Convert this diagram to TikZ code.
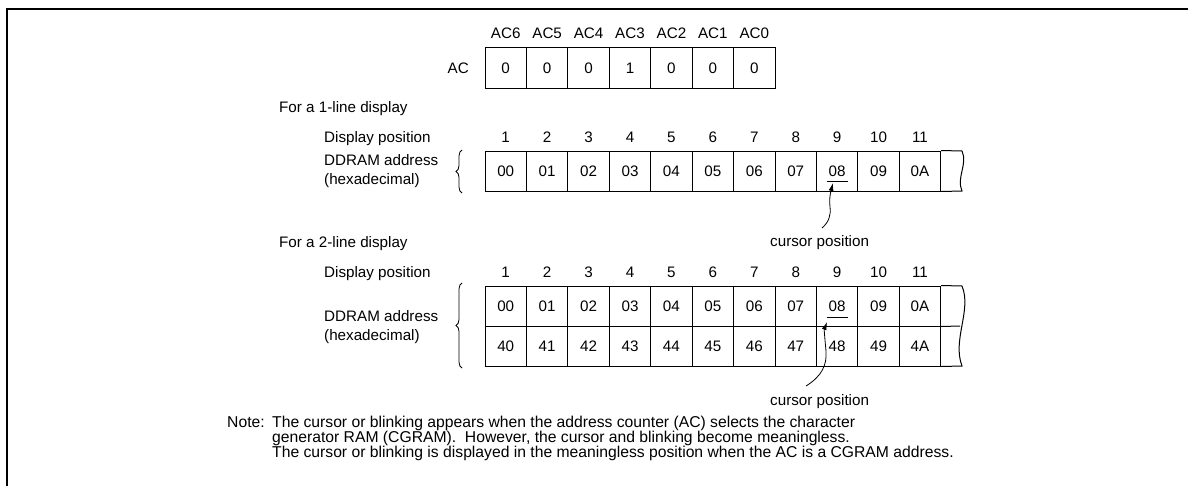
\documentclass[tikz,border=0pt]{standalone}
\usepackage{fontspec}
\setmainfont{Liberation Sans}
\usetikzlibrary{decorations.pathreplacing,arrows.meta}
\tikzset{
  cell/.style={draw, line width=1pt, minimum width=41.43pt, minimum height=40pt, inner sep=0pt, text height=11pt, text depth=0pt},
  lbl/.style={inner sep=0pt},
  num/.style={inner sep=0pt, text height=11pt, text depth=0pt},
  notefont/.style={font=\fontsize{15.7}{15}\selectfont},
  curly/.style={decorate, decoration={brace, amplitude=6pt}, line width=0.8pt},
  cursorarrow/.style={-{Latex[length=8pt,width=5pt]}, line width=0.8pt}
}
\begin{document}
\begin{tikzpicture}[x=1pt,y=-1pt,font=\fontsize{15.2}{18.5}\selectfont]
\useasboundingbox (0,0) rectangle (1188,485);
\draw[line width=2pt] (6.7,486) -- (6.7,9) -- (1188,9);

\node[num, anchor=east] (aclbl) at (469,68) {AC};
\foreach \b/\v [count=\i] in {6/0,5/0,4/0,3/1,2/0,1/0,0/0}
  {
  \node[cell, minimum height=40.6pt] (ac\b) at ({485+(\i-0.5)*41.43},68) {\v};
  \node[num] (acb\b) at ({485+(\i-0.5)*41.43},33) {AC\b};
  }

\node[lbl, anchor=base west] (one) at (279,112.5) {For a 1-line display};
\node[lbl, anchor=base west] (pos1) at (324,142.5) {Display position};
\node[lbl, anchor=west, align=left] (dd1) at (324,171) {DDRAM address\\(hexadecimal)};
\draw[curly] (462,193) -- (462,150);
\foreach \a [count=\i] in {00,01,02,03,04,05,06,07,08,09,0A}
  {
  \node[cell] (a\i) at ({485+(\i-0.5)*41.43},171) {\a};
  \node[num] (n\i) at ({485+(\i-0.5)*41.43},137) {\i};
  }
\draw[line width=1pt] (a11.north east) -- (962,151) .. controls (968,164) and (956,178) .. (962,191) -- (a11.south east);
\draw[line width=0.8pt] (826.7,181.5) -- (847.7,181.5);
\node[lbl, anchor=base west] (cp1) at (770,246.5) {cursor position};
\coordinate (c1) at (822,228);
\coordinate (t1) at (833,183);
\draw[cursorarrow] (c1) .. controls (829,222) and (831,215) .. (830,207) .. controls (829,197) and (831,191) .. (t1);

\node[lbl, anchor=base west] (two) at (279,247.5) {For a 2-line display};
\node[lbl, anchor=base west] (pos2) at (324,277.5) {Display position};
\node[lbl, anchor=west, align=left] (dd2) at (324,327) {DDRAM address\\(hexadecimal)};
\draw[curly] (462,368) -- (462,283);
\foreach \a/\c [count=\i] in {00/40,01/41,02/42,03/43,04/44,05/45,06/46,07/47,08/48,09/49,0A/4A}
  {
  \node[cell] (b\i) at ({485+(\i-0.5)*41.43},306) {\a};
  \node[cell] (d\i) at ({485+(\i-0.5)*41.43},346) {\c};
  \node[num] (m\i) at ({485+(\i-0.5)*41.43},272) {\i};
  }
\draw[line width=1pt] (b11.north east) -- (962,286) .. controls (972,310) and (952,340) .. (962,366) -- (d11.south east);
\draw[line width=1pt] (b11.south east) -- (960,326);
\draw[line width=0.8pt] (826.7,317) -- (847.7,317);
\node[lbl, anchor=base west] (cp2) at (770,405.5) {cursor position};
\coordinate (c2) at (806,386);
\coordinate (t2) at (827,322);
\draw[cursorarrow] (c2) .. controls (822,376) and (827,365) .. (826,351) .. controls (825,340) and (824,330) .. (t2);

\node[lbl, notefont, anchor=base west] (note) at (227,427.5) {Note:};
\node[lbl, notefont, anchor=base west] (nt1) at (272,427.5) {The cursor or blinking appears when the address counter (AC) selects the character};
\node[lbl, notefont, anchor=base west] (nt2) at (272,442.5) {generator RAM (CGRAM).~ However, the cursor and blinking become meaningless.};
\node[lbl, notefont, anchor=base west] (nt3) at (272,457.5) {The cursor or blinking is displayed in the meaningless position when the AC is a CGRAM address.};
\end{tikzpicture}
\end{document}
